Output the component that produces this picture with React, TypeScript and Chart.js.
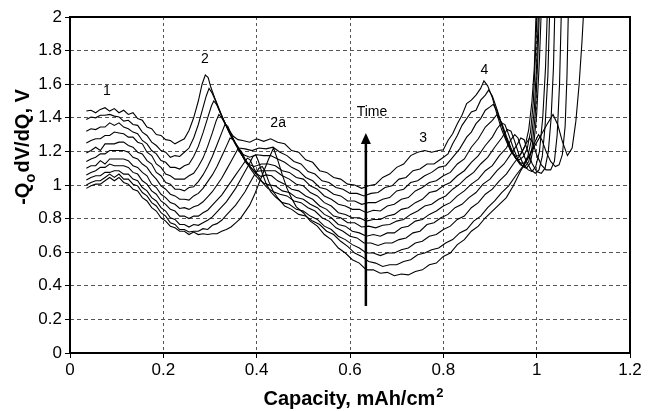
import React, { useEffect, useRef } from 'react';
import { Chart, registerables } from 'chart.js';

Chart.register(...registerables);

// Axis ranges
const xRange = [0, 1.2];
const yRange = [0, 2];
const xStep = 0.2;
const yStep = 0.2;

// Curves, top (latest) to bottom (earliest): [capacity, -Qo dV/dQ]
const curve1 = [[0.035,1.44],[0.045,1.445],[0.055,1.43],[0.065,1.45],[0.075,1.46],[0.085,1.44],[0.095,1.455],[0.105,1.43],[0.115,1.445],[0.125,1.42],[0.135,1.43],[0.145,1.395],[0.155,1.385],[0.165,1.345],[0.175,1.335],[0.185,1.30],[0.195,1.295],[0.205,1.27],[0.215,1.265],[0.225,1.245],[0.235,1.26],[0.245,1.275],[0.255,1.325],[0.265,1.40],[0.275,1.50],[0.283,1.60],[0.29,1.655],[0.296,1.64],[0.302,1.58],[0.31,1.52],[0.32,1.45],[0.33,1.38],[0.34,1.33],[0.35,1.29],[0.36,1.27],[0.37,1.265],[0.385,1.255],[0.4,1.275],[0.415,1.26],[0.43,1.275],[0.445,1.255],[0.46,1.245],[0.475,1.205],[0.49,1.195],[0.505,1.15],[0.52,1.135],[0.535,1.085],[0.55,1.075],[0.565,1.045],[0.58,1.035],[0.595,1.005],[0.61,1.0],[0.625,0.98],[0.64,0.995],[0.655,1.005],[0.67,1.045],[0.685,1.065],[0.7,1.105],[0.715,1.125],[0.73,1.175],[0.745,1.195],[0.76,1.205],[0.775,1.195],[0.79,1.205],[0.8,1.21],[0.81,1.265],[0.82,1.305],[0.83,1.365],[0.84,1.415],[0.85,1.485],[0.86,1.505],[0.87,1.535],[0.88,1.575],[0.887,1.62],[0.895,1.59],[0.905,1.52],[0.915,1.42],[0.925,1.33],[0.935,1.26],[0.945,1.2],[0.955,1.17],[0.965,1.18],[0.975,1.23],[0.983,1.33],[0.99,1.5],[0.995,1.7],[0.999,2.05]];
const curve2 = [[0.035,1.39],[0.045,1.405],[0.055,1.40],[0.065,1.415],[0.075,1.415],[0.085,1.42],[0.095,1.41],[0.105,1.405],[0.115,1.38],[0.125,1.385],[0.135,1.36],[0.145,1.355],[0.155,1.315],[0.165,1.295],[0.175,1.255],[0.185,1.235],[0.195,1.205],[0.205,1.195],[0.215,1.165],[0.225,1.175],[0.235,1.17],[0.245,1.195],[0.255,1.22],[0.265,1.28],[0.275,1.36],[0.285,1.46],[0.292,1.53],[0.298,1.575],[0.304,1.55],[0.312,1.5],[0.322,1.43],[0.332,1.37],[0.342,1.31],[0.352,1.26],[0.362,1.22],[0.375,1.215],[0.39,1.205],[0.405,1.22],[0.42,1.215],[0.435,1.225],[0.45,1.195],[0.465,1.175],[0.48,1.14],[0.495,1.125],[0.51,1.08],[0.525,1.065],[0.54,1.025],[0.555,1.015],[0.57,0.985],[0.585,0.975],[0.6,0.95],[0.615,0.95],[0.63,0.935],[0.645,0.95],[0.66,0.955],[0.675,0.985],[0.69,0.995],[0.705,1.035],[0.72,1.045],[0.735,1.085],[0.75,1.095],[0.765,1.125],[0.78,1.125],[0.795,1.155],[0.81,1.185],[0.82,1.245],[0.83,1.295],[0.84,1.355],[0.85,1.395],[0.86,1.435],[0.87,1.445],[0.88,1.505],[0.89,1.535],[0.897,1.565],[0.905,1.53],[0.915,1.45],[0.925,1.36],[0.935,1.27],[0.945,1.2],[0.955,1.16],[0.963,1.15],[0.972,1.17],[0.98,1.22],[0.987,1.32],[0.993,1.5],[0.997,1.75],[1.001,2.05]];
const curve3 = [[0.035,1.32],[0.045,1.335],[0.055,1.33],[0.065,1.345],[0.075,1.345],[0.085,1.37],[0.095,1.355],[0.105,1.37],[0.115,1.345],[0.125,1.335],[0.135,1.315],[0.145,1.305],[0.155,1.265],[0.165,1.245],[0.175,1.205],[0.185,1.185],[0.195,1.145],[0.205,1.135],[0.215,1.105],[0.225,1.105],[0.235,1.095],[0.245,1.115],[0.255,1.125],[0.265,1.17],[0.275,1.23],[0.285,1.31],[0.295,1.4],[0.303,1.47],[0.308,1.50],[0.314,1.48],[0.322,1.43],[0.332,1.37],[0.342,1.31],[0.352,1.26],[0.362,1.21],[0.372,1.18],[0.385,1.165],[0.4,1.18],[0.415,1.175],[0.43,1.175],[0.445,1.155],[0.46,1.135],[0.475,1.105],[0.49,1.085],[0.505,1.045],[0.52,1.025],[0.535,0.985],[0.55,0.975],[0.565,0.945],[0.58,0.935],[0.595,0.905],[0.61,0.905],[0.625,0.885],[0.64,0.895],[0.655,0.895],[0.67,0.915],[0.685,0.925],[0.7,0.965],[0.715,0.975],[0.73,1.015],[0.745,1.025],[0.76,1.055],[0.775,1.075],[0.79,1.105],[0.805,1.115],[0.82,1.165],[0.835,1.215],[0.85,1.285],[0.86,1.315],[0.87,1.365],[0.88,1.395],[0.89,1.445],[0.9,1.465],[0.907,1.48],[0.915,1.44],[0.925,1.36],[0.935,1.28],[0.945,1.21],[0.955,1.16],[0.965,1.13],[0.973,1.13],[0.981,1.17],[0.988,1.26],[0.995,1.45],[1.0,1.72],[1.004,2.05]];
const curve4 = [[0.035,1.25],[0.045,1.265],[0.055,1.275],[0.065,1.275],[0.075,1.295],[0.085,1.295],[0.095,1.315],[0.105,1.31],[0.115,1.305],[0.125,1.285],[0.135,1.285],[0.145,1.255],[0.155,1.245],[0.165,1.195],[0.175,1.175],[0.185,1.125],[0.195,1.105],[0.205,1.065],[0.215,1.055],[0.225,1.035],[0.235,1.035],[0.245,1.035],[0.255,1.055],[0.265,1.07],[0.275,1.11],[0.285,1.16],[0.295,1.23],[0.305,1.31],[0.313,1.38],[0.319,1.42],[0.325,1.40],[0.335,1.35],[0.345,1.29],[0.355,1.24],[0.365,1.19],[0.375,1.15],[0.385,1.12],[0.395,1.11],[0.41,1.125],[0.425,1.125],[0.44,1.115],[0.455,1.085],[0.47,1.075],[0.485,1.045],[0.5,1.035],[0.515,0.995],[0.53,0.975],[0.545,0.935],[0.56,0.915],[0.575,0.885],[0.59,0.875],[0.605,0.855],[0.62,0.855],[0.635,0.835],[0.65,0.85],[0.665,0.845],[0.68,0.875],[0.695,0.885],[0.71,0.915],[0.725,0.925],[0.74,0.965],[0.755,0.985],[0.77,1.015],[0.785,1.025],[0.8,1.055],[0.815,1.075],[0.83,1.125],[0.845,1.155],[0.86,1.225],[0.875,1.275],[0.89,1.345],[0.905,1.385],[0.915,1.42],[0.925,1.37],[0.935,1.29],[0.945,1.22],[0.955,1.16],[0.965,1.12],[0.975,1.11],[0.983,1.14],[0.99,1.22],[0.997,1.42],[1.002,1.72],[1.006,2.05]];
const curve5 = [[0.035,1.19],[0.045,1.205],[0.055,1.225],[0.065,1.205],[0.075,1.245],[0.085,1.245],[0.095,1.245],[0.105,1.255],[0.115,1.255],[0.125,1.235],[0.135,1.225],[0.145,1.195],[0.155,1.185],[0.165,1.145],[0.175,1.125],[0.185,1.075],[0.195,1.055],[0.205,1.015],[0.215,1.005],[0.225,0.975],[0.235,0.975],[0.245,0.965],[0.255,0.985],[0.265,0.99],[0.275,1.02],[0.285,1.06],[0.295,1.11],[0.305,1.17],[0.315,1.24],[0.325,1.31],[0.332,1.36],[0.338,1.35],[0.346,1.30],[0.356,1.24],[0.366,1.19],[0.376,1.14],[0.386,1.11],[0.396,1.08],[0.41,1.085],[0.425,1.085],[0.44,1.085],[0.455,1.055],[0.47,1.035],[0.485,1.005],[0.5,0.995],[0.515,0.955],[0.53,0.935],[0.545,0.895],[0.56,0.875],[0.575,0.835],[0.59,0.825],[0.605,0.805],[0.62,0.805],[0.635,0.785],[0.65,0.795],[0.665,0.795],[0.68,0.815],[0.695,0.825],[0.71,0.855],[0.725,0.865],[0.74,0.895],[0.755,0.915],[0.77,0.955],[0.785,0.965],[0.8,0.995],[0.815,1.015],[0.83,1.055],[0.845,1.085],[0.86,1.135],[0.875,1.175],[0.89,1.235],[0.905,1.285],[0.915,1.335],[0.925,1.37],[0.932,1.36],[0.94,1.3],[0.95,1.22],[0.96,1.15],[0.97,1.11],[0.978,1.1],[0.986,1.13],[0.993,1.22],[1.0,1.42],[1.006,1.75],[1.01,2.05]];
const curve6 = [[0.035,1.14],[0.045,1.155],[0.055,1.165],[0.065,1.185],[0.075,1.185],[0.085,1.205],[0.095,1.205],[0.105,1.205],[0.115,1.205],[0.125,1.195],[0.135,1.165],[0.145,1.155],[0.155,1.125],[0.165,1.105],[0.175,1.065],[0.185,1.035],[0.195,0.995],[0.205,0.975],[0.215,0.945],[0.225,0.935],[0.235,0.915],[0.245,0.915],[0.255,0.91],[0.265,0.935],[0.275,0.95],[0.285,0.98],[0.295,1.02],[0.305,1.06],[0.315,1.11],[0.325,1.17],[0.335,1.23],[0.343,1.28],[0.35,1.27],[0.358,1.23],[0.368,1.18],[0.378,1.13],[0.388,1.1],[0.398,1.07],[0.41,1.05],[0.42,1.06],[0.432,1.055],[0.445,1.025],[0.46,1.005],[0.475,0.975],[0.49,0.965],[0.505,0.935],[0.52,0.915],[0.535,0.875],[0.55,0.855],[0.565,0.815],[0.58,0.805],[0.595,0.775],[0.61,0.775],[0.625,0.75],[0.64,0.755],[0.655,0.745],[0.67,0.76],[0.685,0.765],[0.7,0.785],[0.715,0.795],[0.73,0.825],[0.745,0.845],[0.76,0.875],[0.775,0.885],[0.79,0.915],[0.805,0.935],[0.82,0.975],[0.835,1.005],[0.85,1.045],[0.865,1.075],[0.88,1.125],[0.895,1.165],[0.91,1.225],[0.925,1.28],[0.937,1.33],[0.945,1.32],[0.953,1.26],[0.962,1.18],[0.972,1.12],[0.982,1.09],[0.99,1.08],[0.998,1.11],[1.006,1.2],[1.013,1.4],[1.019,1.7],[1.023,2.05]];
const curve7 = [[0.035,1.10],[0.045,1.115],[0.055,1.115],[0.065,1.145],[0.075,1.125],[0.085,1.155],[0.095,1.155],[0.105,1.155],[0.115,1.155],[0.125,1.145],[0.135,1.115],[0.145,1.105],[0.155,1.075],[0.165,1.055],[0.175,1.005],[0.185,0.985],[0.195,0.945],[0.205,0.925],[0.215,0.895],[0.225,0.885],[0.235,0.86],[0.245,0.865],[0.255,0.855],[0.265,0.87],[0.275,0.88],[0.285,0.9],[0.295,0.93],[0.305,0.96],[0.315,1.0],[0.325,1.04],[0.335,1.09],[0.345,1.14],[0.355,1.19],[0.361,1.22],[0.367,1.2],[0.376,1.15],[0.386,1.1],[0.396,1.06],[0.406,1.03],[0.416,1.01],[0.428,1.0],[0.44,0.995],[0.455,0.965],[0.47,0.955],[0.485,0.925],[0.5,0.915],[0.515,0.885],[0.53,0.865],[0.545,0.825],[0.56,0.805],[0.575,0.765],[0.59,0.755],[0.605,0.725],[0.62,0.715],[0.635,0.695],[0.65,0.705],[0.665,0.695],[0.68,0.715],[0.695,0.715],[0.71,0.745],[0.725,0.755],[0.74,0.785],[0.755,0.795],[0.77,0.825],[0.785,0.845],[0.8,0.875],[0.815,0.895],[0.83,0.935],[0.845,0.965],[0.86,1.005],[0.875,1.035],[0.89,1.085],[0.905,1.115],[0.92,1.175],[0.935,1.22],[0.945,1.27],[0.953,1.3],[0.96,1.28],[0.968,1.21],[0.978,1.14],[0.988,1.09],[0.997,1.07],[1.005,1.09],[1.012,1.17],[1.018,1.35],[1.024,1.65],[1.028,2.05]];
const curve8 = [[0.035,1.06],[0.045,1.075],[0.055,1.085],[0.065,1.105],[0.075,1.105],[0.085,1.125],[0.095,1.115],[0.105,1.115],[0.115,1.115],[0.125,1.105],[0.135,1.075],[0.145,1.065],[0.155,1.025],[0.165,1.005],[0.175,0.965],[0.185,0.945],[0.195,0.905],[0.205,0.885],[0.215,0.855],[0.225,0.845],[0.235,0.815],[0.245,0.815],[0.255,0.8],[0.265,0.815],[0.275,0.815],[0.285,0.835],[0.295,0.85],[0.305,0.88],[0.315,0.91],[0.325,0.94],[0.335,0.98],[0.345,1.02],[0.355,1.06],[0.365,1.1],[0.375,1.14],[0.38,1.16],[0.386,1.15],[0.394,1.1],[0.404,1.05],[0.414,1.01],[0.424,0.98],[0.436,0.96],[0.45,0.945],[0.465,0.935],[0.48,0.905],[0.495,0.895],[0.51,0.865],[0.525,0.845],[0.54,0.805],[0.555,0.785],[0.57,0.745],[0.585,0.725],[0.6,0.695],[0.615,0.685],[0.63,0.655],[0.645,0.655],[0.66,0.64],[0.675,0.655],[0.69,0.655],[0.705,0.675],[0.72,0.685],[0.735,0.715],[0.75,0.725],[0.765,0.765],[0.78,0.775],[0.795,0.805],[0.81,0.825],[0.825,0.865],[0.84,0.885],[0.855,0.925],[0.87,0.955],[0.885,1.005],[0.9,1.035],[0.915,1.085],[0.93,1.125],[0.945,1.185],[0.958,1.24],[0.966,1.28],[0.973,1.27],[0.981,1.2],[0.99,1.13],[1.0,1.08],[1.01,1.07],[1.018,1.1],[1.025,1.2],[1.031,1.4],[1.036,1.7],[1.039,2.05]];
const curve9 = [[0.035,1.03],[0.045,1.045],[0.055,1.055],[0.065,1.055],[0.075,1.075],[0.085,1.075],[0.095,1.085],[0.105,1.085],[0.115,1.065],[0.125,1.065],[0.135,1.035],[0.145,1.025],[0.155,0.985],[0.165,0.965],[0.175,0.925],[0.185,0.905],[0.195,0.865],[0.205,0.845],[0.215,0.805],[0.225,0.795],[0.235,0.765],[0.245,0.765],[0.255,0.75],[0.265,0.765],[0.275,0.76],[0.285,0.775],[0.295,0.79],[0.305,0.81],[0.315,0.84],[0.325,0.87],[0.335,0.9],[0.345,0.94],[0.355,0.98],[0.365,1.03],[0.375,1.08],[0.385,1.13],[0.392,1.17],[0.398,1.18],[0.404,1.14],[0.412,1.07],[0.42,1.01],[0.43,0.96],[0.44,0.93],[0.455,0.895],[0.47,0.885],[0.485,0.855],[0.5,0.845],[0.515,0.815],[0.53,0.795],[0.545,0.755],[0.56,0.735],[0.575,0.695],[0.59,0.675],[0.605,0.645],[0.62,0.625],[0.635,0.595],[0.65,0.595],[0.665,0.58],[0.68,0.595],[0.695,0.595],[0.71,0.615],[0.725,0.625],[0.74,0.655],[0.755,0.665],[0.77,0.695],[0.785,0.705],[0.8,0.735],[0.815,0.755],[0.83,0.795],[0.845,0.815],[0.86,0.865],[0.875,0.895],[0.89,0.945],[0.905,0.975],[0.92,1.025],[0.935,1.065],[0.95,1.125],[0.965,1.18],[0.978,1.25],[0.985,1.28],[0.992,1.25],[1.0,1.18],[1.01,1.12],[1.02,1.09],[1.03,1.09],[1.038,1.14],[1.044,1.3],[1.049,1.6],[1.053,2.05]];
const curve10 = [[0.035,1.0],[0.045,1.015],[0.055,1.025],[0.065,1.025],[0.075,1.045],[0.085,1.065],[0.095,1.045],[0.105,1.065],[0.115,1.035],[0.125,1.035],[0.135,1.005],[0.145,0.995],[0.155,0.955],[0.165,0.935],[0.175,0.895],[0.185,0.875],[0.195,0.835],[0.205,0.815],[0.215,0.775],[0.225,0.765],[0.235,0.735],[0.245,0.735],[0.255,0.72],[0.265,0.725],[0.275,0.725],[0.285,0.74],[0.295,0.735],[0.305,0.76],[0.315,0.77],[0.325,0.79],[0.335,0.82],[0.345,0.85],[0.355,0.88],[0.365,0.92],[0.375,0.96],[0.385,1.01],[0.395,1.06],[0.405,1.1],[0.412,1.11],[0.418,1.08],[0.426,1.02],[0.436,0.96],[0.446,0.92],[0.46,0.875],[0.475,0.855],[0.49,0.825],[0.505,0.815],[0.52,0.785],[0.535,0.765],[0.55,0.725],[0.565,0.705],[0.58,0.665],[0.595,0.635],[0.61,0.595],[0.625,0.575],[0.64,0.545],[0.655,0.535],[0.67,0.515],[0.685,0.525],[0.7,0.525],[0.715,0.545],[0.73,0.555],[0.745,0.585],[0.76,0.595],[0.775,0.615],[0.79,0.625],[0.805,0.655],[0.82,0.675],[0.835,0.715],[0.85,0.735],[0.865,0.785],[0.88,0.815],[0.895,0.865],[0.91,0.905],[0.925,0.955],[0.94,0.995],[0.955,1.055],[0.97,1.11],[0.985,1.18],[0.997,1.26],[1.004,1.3],[1.011,1.27],[1.02,1.2],[1.03,1.14],[1.04,1.11],[1.048,1.12],[1.055,1.18],[1.061,1.35],[1.065,1.65],[1.068,2.05]];
const curve11 = [[0.035,0.98],[0.045,0.995],[0.055,1.005],[0.065,1.005],[0.075,1.025],[0.085,1.045],[0.095,1.025],[0.105,1.045],[0.115,1.015],[0.125,1.005],[0.135,0.975],[0.145,0.965],[0.155,0.925],[0.165,0.905],[0.175,0.865],[0.185,0.845],[0.195,0.805],[0.205,0.785],[0.215,0.755],[0.225,0.745],[0.235,0.725],[0.245,0.725],[0.255,0.705],[0.265,0.72],[0.275,0.705],[0.285,0.71],[0.295,0.705],[0.305,0.71],[0.315,0.71],[0.325,0.725],[0.335,0.735],[0.345,0.75],[0.355,0.775],[0.365,0.8],[0.375,0.84],[0.385,0.88],[0.395,0.94],[0.405,1.01],[0.415,1.08],[0.425,1.15],[0.436,1.22],[0.445,1.15],[0.455,1.06],[0.465,0.98],[0.475,0.92],[0.485,0.87],[0.5,0.835],[0.515,0.785],[0.53,0.755],[0.545,0.705],[0.56,0.675],[0.575,0.625],[0.59,0.595],[0.605,0.555],[0.62,0.535],[0.635,0.495],[0.65,0.495],[0.665,0.475],[0.68,0.48],[0.695,0.46],[0.71,0.47],[0.725,0.465],[0.74,0.485],[0.755,0.495],[0.77,0.525],[0.785,0.535],[0.8,0.575],[0.815,0.595],[0.83,0.645],[0.845,0.675],[0.86,0.725],[0.875,0.755],[0.89,0.805],[0.905,0.845],[0.92,0.885],[0.935,0.925],[0.95,0.995],[0.965,1.08],[0.98,1.15],[0.995,1.23],[1.01,1.3],[1.022,1.36],[1.035,1.42],[1.045,1.36],[1.055,1.26],[1.066,1.175],[1.076,1.22],[1.084,1.38],[1.091,1.6],[1.097,1.85],[1.101,2.05]];

const curves = [curve1, curve2, curve3, curve4, curve5, curve6, curve7, curve8, curve9, curve10, curve11];

// Annotations
const noteTexts = ['1', '2', '2a', '3', '4', 'Time'];
const noteX = [0.079, 0.289, 0.446, 0.757, 0.888, 0.647];
const noteY = [1.56, 1.75, 1.367, 1.28, 1.685, 1.435];

// Time arrow (capacity, from, to)
const arrowX = 0.634;
const arrowFrom = 0.28;
const arrowTo = 1.31;

const FONT = '"Liberation Sans", Arial, sans-serif';

const overlayPlugin = {
  id: 'overlay',
  afterDatasetsDraw(chart: any) {
    const { ctx, chartArea: a, scales } = chart;
    const xs = scales.x;
    const ys = scales.y;
    ctx.save();
    ctx.setLineDash([]);
    // frame
    ctx.strokeStyle = '#000';
    ctx.lineWidth = 2;
    ctx.strokeRect(a.left, a.top, a.right - a.left, a.bottom - a.top);

    // arrow
    const ax = xs.getPixelForValue(arrowX);
    const ay0 = ys.getPixelForValue(arrowFrom);
    const ay1 = ys.getPixelForValue(arrowTo);
    ctx.lineWidth = 2.5;
    ctx.beginPath();
    ctx.moveTo(ax, ay0);
    ctx.lineTo(ax, ay1 + 8);
    ctx.stroke();
    ctx.fillStyle = '#000';
    ctx.beginPath();
    ctx.moveTo(ax, ay1);
    ctx.lineTo(ax - 5, ay1 + 11);
    ctx.lineTo(ax + 5, ay1 + 11);
    ctx.closePath();
    ctx.fill();

    // notes
    ctx.font = `14px ${FONT}`;
    ctx.textAlign = 'center';
    ctx.textBaseline = 'middle';
    noteTexts.forEach((t, i) => {
      ctx.fillText(t, xs.getPixelForValue(noteX[i]), ys.getPixelForValue(noteY[i]));
    });

    // x title with superscript
    const xMain = 'Capacity, mAh/cm';
    const xSup = '2';
    ctx.font = `bold 20px ${FONT}`;
    const wMain = ctx.measureText(xMain).width;
    ctx.font = `bold 13px ${FONT}`;
    const wSup = ctx.measureText(xSup).width;
    const cx = (a.left + a.right) / 2 + 3;
    const tx = cx - (wMain + wSup) / 2;
    const ty = a.bottom + 52;
    ctx.textAlign = 'left';
    ctx.textBaseline = 'alphabetic';
    ctx.font = `bold 20px ${FONT}`;
    ctx.fillText(xMain, tx, ty);
    ctx.font = `bold 13px ${FONT}`;
    ctx.fillText(xSup, tx + wMain + 1, ty - 8);

    // y title with subscript
    const p1 = '-Q';
    const p2 = 'o';
    const p3 = 'dV/dQ, V';
    ctx.font = `bold 20px ${FONT}`;
    const w1 = ctx.measureText(p1).width;
    const w3 = ctx.measureText(p3).width;
    ctx.font = `bold 15px ${FONT}`;
    const w2 = ctx.measureText(p2).width;
    const total = w1 + w2 + w3 + 1;
    ctx.translate(a.left - 41, a.top + 130);
    ctx.rotate(-Math.PI / 2);
    let px = -total / 2;
    ctx.font = `bold 20px ${FONT}`;
    ctx.fillText(p1, px, 0);
    px += w1;
    ctx.font = `bold 15px ${FONT}`;
    ctx.fillText(p2, px, 6);
    px += w2 + 1;
    ctx.font = `bold 20px ${FONT}`;
    ctx.fillText(p3, px, 0);
    ctx.restore();
  },
};

const fmt = (v: number) => String(Math.round(v * 10) / 10);

export default function App() {
  const ref = useRef<HTMLCanvasElement>(null);
  useEffect(() => {
    document.body.style.margin = '0';
    const chart = new Chart(ref.current as HTMLCanvasElement, {
      type: 'line',
      data: {
        datasets: curves.map((c, i) => ({
          label: `curve ${i + 1}`,
          data: c.map(([x, y]) => ({ x, y })),
          borderColor: '#000',
          borderWidth: 1.1,
          pointRadius: 0,
          tension: 0,
          fill: false,
        })),
      },
      options: {
        responsive: false,
        animation: false,
        events: [],
        layout: { padding: { left: 0, top: 17, right: 26, bottom: 0 } },
        plugins: { legend: { display: false }, tooltip: { enabled: false } },
        scales: {
          x: {
            type: 'linear',
            min: xRange[0],
            max: xRange[1],
            afterFit: (s: any) => { s.height = 58; },
            ticks: { stepSize: xStep, color: '#000', font: { size: 17, family: FONT }, padding: 2, callback: (v: any) => fmt(v), maxRotation: 0 },
            grid: { color: '#555', lineWidth: 1, tickLength: 5, tickColor: '#000', drawTicks: true },
            border: { display: false, dash: [3, 3] },
          },
          y: {
            type: 'linear',
            min: yRange[0],
            max: yRange[1],
            afterFit: (s: any) => { s.width = 70; },
            ticks: { stepSize: yStep, color: '#000', font: { size: 17, family: FONT }, padding: 3, callback: (v: any) => fmt(v) },
            grid: { color: '#555', lineWidth: 1, tickLength: 5, tickColor: '#000', drawTicks: true },
            border: { display: false, dash: [4, 3] },
          },
        },
      },
      plugins: [overlayPlugin],
    } as any);
    return () => chart.destroy();
  }, []);
  return (
    <div style={{ width: 656, height: 411, background: '#fff' }}>
      <canvas ref={ref} width={656} height={411} />
    </div>
  );
}
